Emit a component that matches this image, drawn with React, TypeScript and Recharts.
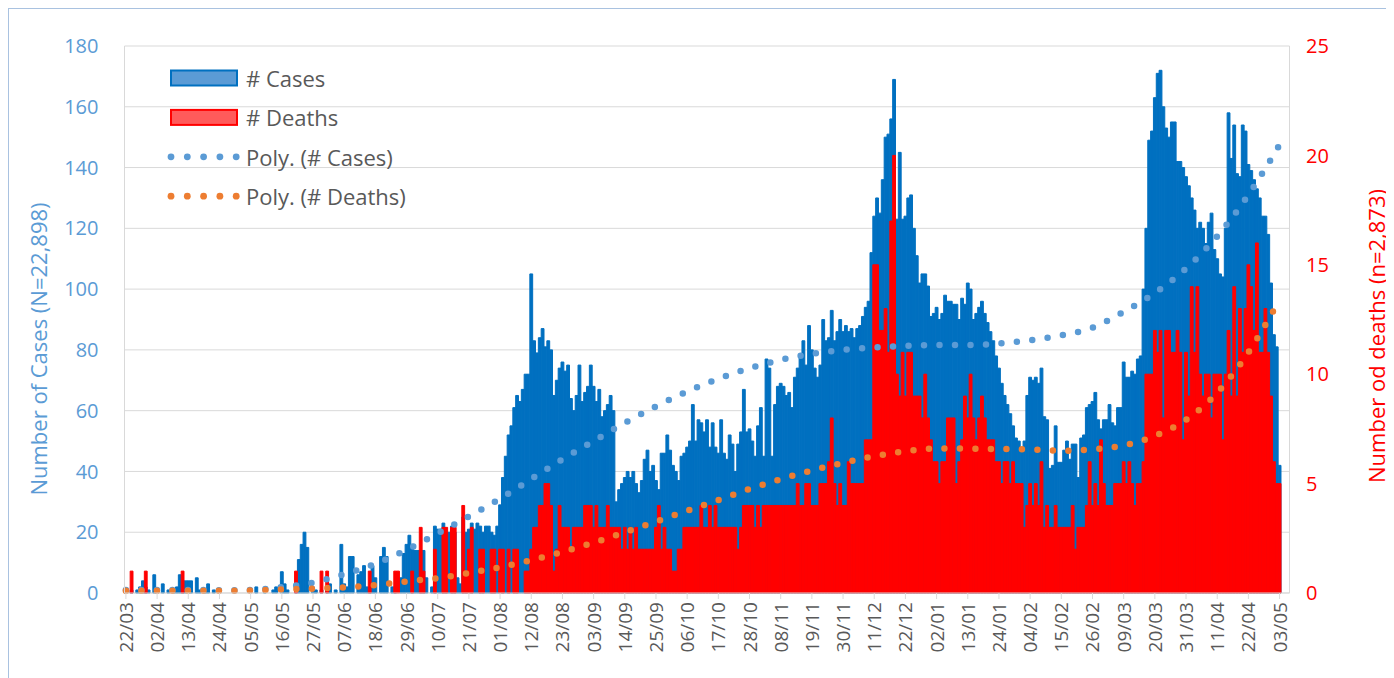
import {
  ComposedChart,
  Bar,
  Line,
  XAxis,
  YAxis,
  CartesianGrid,
  Legend,
  Label,
} from "recharts";

// first day shown on the axis, and number of day slots on the axis
// (the plot keeps a few empty days after 03/05)
const startDate = Date.UTC(2020, 2, 22);
const totalDays = 411;

// daily cases, one row per 11 days (row starts at the tick date in the comment)
const cases = [
  1, 0, 1, 0, 1, 2, 4, 2, 1, 0, 6, // 22/03
  1, 0, 3, 0, 1, 0, 1, 2, 6, 1, 4, // 02/04
  4, 4, 0, 5, 1, 0, 1, 3, 0, 1, 0, // 13/04
  0, 0, 0, 0, 0, 0, 0, 0, 0, 0, 0, // 24/04
  0, 0, 2, 0, 0, 1, 0, 0, 1, 2, 0, // 05/05
  7, 3, 1, 0, 0, 1, 11, 16, 20, 15, 0, // 16/05
  2, 1, 0, 1, 0, 1, 3, 0, 1, 0, 16, // 27/05
  3, 2, 12, 12, 0, 6, 7, 9, 2, 1, 9, // 07/06
  5, 0, 12, 15, 12, 0, 2, 1, 0, 5, 13, // 18/06
  16, 19, 16, 14, 14, 14, 14, 5, 0, 2, 22, // 29/06
  21, 21, 23, 20, 20, 22, 20, 5, 3, 25, 20, // 10/07
  21, 23, 21, 23, 22, 20, 22, 22, 20, 19, 22, // 21/07
  29, 38, 45, 52, 55, 61, 65, 63, 67, 72, 72, // 01/08
  105, 83, 79, 84, 87, 81, 83, 80, 65, 70, 74, // 12/08
  76, 73, 75, 64, 60, 65, 75, 63, 66, 68, 75, // 23/08
  68, 63, 67, 58, 60, 62, 65, 60, 30, 34, 36, // 03/09
  38, 40, 38, 40, 36, 33, 37, 44, 47, 40, 42, // 14/09
  37, 34, 46, 46, 52, 47, 42, 40, 37, 45, 46, // 25/09
  48, 50, 62, 50, 57, 56, 53, 57, 48, 56, 48, // 06/10
  46, 57, 46, 44, 52, 49, 40, 49, 53, 67, 53, // 17/10
  54, 50, 45, 55, 61, 45, 77, 74, 45, 62, 68, // 28/10
  69, 68, 65, 66, 61, 71, 74, 78, 83, 75, 88, // 08/11
  80, 74, 71, 75, 90, 83, 84, 93, 83, 86, 90, // 19/11
  86, 88, 86, 87, 84, 87, 88, 91, 94, 96, 112, // 30/11
  124, 130, 125, 136, 150, 151, 156, 169, 123, 145, 123, // 11/12
  124, 130, 131, 120, 111, 102, 105, 105, 101, 91, 92, // 22/12
  94, 90, 92, 98, 96, 96, 95, 95, 90, 97, 95, // 02/01
  102, 100, 90, 92, 94, 96, 92, 89, 86, 83, 78, // 13/01
  74, 69, 65, 62, 59, 55, 51, 50, 47, 50, 65, // 24/01
  71, 70, 71, 69, 74, 58, 57, 41, 42, 55, 43, // 04/02
  43, 47, 50, 44, 49, 49, 38, 51, 52, 61, 62, // 15/02
  63, 66, 57, 54, 57, 57, 62, 56, 55, 61, 61, // 26/02
  76, 71, 71, 73, 72, 77, 78, 100, 120, 149, 152, // 09/03
  163, 171, 172, 160, 153, 150, 155, 155, 142, 142, 140, // 20/03
  137, 134, 130, 126, 120, 122, 120, 115, 122, 125, 113, // 31/03
  110, 105, 104, 120, 158, 143, 154, 138, 137, 154, 152, // 11/04
  141, 139, 136, 133, 130, 124, 124, 118, 102, 85, 81, // 22/04
  42, // 03/05
];

// daily deaths, same layout
const deaths = [
  0, 0, 1, 0, 0, 0, 0, 1, 0, 0, 0, // 22/03
  0, 0, 0, 0, 0, 0, 0, 0, 0, 1, 0, // 02/04
  0, 0, 0, 0, 0, 0, 0, 0, 0, 0, 0, // 13/04
  0, 0, 0, 0, 0, 0, 0, 0, 0, 0, 0, // 24/04
  0, 0, 0, 0, 0, 0, 0, 0, 0, 0, 0, // 05/05
  0, 0, 0, 0, 0, 1, 0, 0, 0, 0, 0, // 16/05
  0, 0, 0, 1, 0, 1, 0, 0, 0, 0, 0, // 27/05
  0, 0, 0, 0, 0, 0, 0, 0, 0, 1, 0, // 07/06
  0, 0, 0, 0, 0, 0, 0, 1, 1, 0, 0, // 18/06
  0, 0, 1, 0, 0, 3, 1, 0, 0, 0, 2, // 29/06
  0, 0, 3, 3, 0, 3, 3, 0, 0, 4, 1, // 10/07
  2, 3, 0, 0, 2, 2, 0, 0, 2, 2, 0, // 21/07
  2, 2, 0, 2, 0, 2, 2, 0, 0, 1, 1, // 01/08
  2, 3, 3, 4, 4, 5, 5, 4, 1, 2, 4, // 12/08
  3, 3, 3, 2, 3, 3, 3, 3, 4, 4, 4, // 23/08
  3, 4, 3, 3, 3, 4, 3, 3, 3, 3, 2, // 03/09
  3, 2, 3, 2, 3, 2, 2, 2, 2, 2, 2, // 14/09
  3, 4, 2, 3, 2, 2, 1, 1, 2, 2, 3, // 25/09
  3, 3, 3, 3, 3, 4, 3, 3, 4, 3, 4, // 06/10
  3, 3, 3, 3, 3, 3, 3, 2, 3, 4, 4, // 17/10
  4, 4, 3, 4, 3, 4, 4, 4, 4, 4, 4, // 28/10
  4, 4, 4, 4, 4, 4, 5, 4, 4, 5, 5, // 08/11
  4, 4, 4, 5, 5, 5, 6, 8, 5, 4, 5, // 19/11
  4, 4, 6, 5, 5, 5, 5, 5, 7, 7, 7, // 30/11
  15, 15, 12, 12, 13, 11, 17, 20, 10, 9, 11, // 11/12
  9, 11, 11, 9, 9, 9, 8, 10, 8, 7, 6, // 22/12
  6, 5, 6, 6, 8, 8, 8, 5, 6, 7, 9, // 02/01
  8, 10, 8, 7, 8, 9, 8, 7, 7, 7, 6, // 13/01
  6, 5, 6, 6, 5, 6, 5, 5, 5, 3, 4, // 24/01
  5, 4, 5, 4, 6, 3, 4, 3, 3, 4, 3, // 04/02
  3, 3, 3, 3, 4, 2, 3, 3, 3, 4, 6, // 15/02
  4, 5, 4, 7, 5, 4, 4, 4, 5, 5, 5, // 26/02
  6, 5, 6, 5, 4, 5, 5, 6, 10, 10, 10, // 09/03
  12, 11, 12, 8, 12, 12, 11, 11, 12, 11, 7, // 20/03
  11, 9, 14, 11, 14, 10, 9, 10, 10, 8, 10, // 31/03
  10, 10, 7, 10, 12, 9, 14, 9, 13, 11, 13, // 11/04
  15, 14, 12, 16, 11, 11, 13, 11, 9, 6, 5, // 22/04
  5, // 03/05
];

// polynomial trendlines read at every tick date (22/03, 02/04, ... 03/05)
const casesTrend = [
  1, 1, 1, 0.9, 1, 1.9, 3.4, 6.2, 9.6, 14.2, 19.6, 25.2, 31, 37.5, 44, 50,
  56, 61.4, 66.3, 70.5, 74, 76.7, 78.7, 80, 80.8, 81.3, 81.6, 81.6, 82.1,
  83.2, 84.8, 87.3, 92.5, 98.7, 106.8, 117.4, 131, 147.5,
];
const deathsTrend = [
  0.1, 0.1, 0.1, 0.1, 0.12, 0.16, 0.2, 0.26, 0.36, 0.53, 0.68, 0.91, 1.18,
  1.5, 1.88, 2.3, 2.78, 3.26, 3.76, 4.25, 4.75, 5.2, 5.6, 5.95, 6.25, 6.48,
  6.6, 6.6, 6.58, 6.56, 6.5, 6.57, 6.74, 7.18, 7.92, 9.15, 11.0, 13.4,
];

const leftTicks = [0, 20, 40, 60, 80, 100, 120, 140, 160, 180];
const rightTicks = [0, 5, 10, 15, 20, 25];

const legendRows = [
  { label: "# Cases", kind: "box", fill: "#5B9BD5", stroke: "#0070C0" },
  { label: "# Deaths", kind: "box", fill: "#FF5B5B", stroke: "#FF0000" },
  { label: "Poly. (# Cases)", kind: "dots", fill: "#5B9BD5", stroke: "#5B9BD5" },
  { label: "Poly. (# Deaths)", kind: "dots", fill: "#ED7D31", stroke: "#ED7D31" },
];

const pad = (n: number) => String(n).padStart(2, "0");
const dates = Array.from({ length: totalDays }, (_, i) => {
  const d = new Date(startDate + i * 86400000);
  return `${pad(d.getUTCDate())}/${pad(d.getUTCMonth() + 1)}/${d.getUTCFullYear()}`;
});

const data = dates.map((date, i) => ({
  date,
  cases: i < cases.length ? cases[i] : null,
  deaths: i < deaths.length ? deaths[i] : null,
  casesTrend: i % 11 === 0 && i / 11 < casesTrend.length ? casesTrend[i / 11] : null,
  deathsTrend: i % 11 === 0 && i / 11 < deathsTrend.length ? deathsTrend[i / 11] : null,
}));

const W = 1381;
const H = 680;
const LEFT_W = 115.5;
const RIGHT_W = 100.5;
const plotW = W - LEFT_W - RIGHT_W;
const barSize = plotW / totalDays - 0.01;

const DateTick = (props: any) => {
  const { x, y, payload } = props;
  return (
    <text
      x={x}
      y={y}
      transform={`rotate(-90 ${x} ${y})`}
      textAnchor="end"
      dominantBaseline="central"
      fill="#595959"
      fontSize={19}
    >
      {String(payload.value).slice(0, 5)}
    </text>
  );
};

const renderLegend = () => (
  <svg width={300} height={150}>
    {legendRows.map((r, i) => {
      const cy = 14 + i * 39.4;
      return (
        <g key={r.label}>
          {r.kind === "box" ? (
            <rect x={7} y={cy - 7.5} width={66} height={15} fill={r.fill} stroke={r.stroke} strokeWidth={2} />
          ) : (
            [0, 1, 2, 3, 4].map((k) => (
              <circle key={k} cx={7 + k * 16.3} cy={cy} r={3.4} fill={r.fill} />
            ))
          )}
          <text x={82} y={cy} dominantBaseline="central" fontSize={22} fill="#595959">
            {r.label}
          </text>
        </g>
      );
    })}
  </svg>
);

export default function App() {
  return (
    <div
      style={{
        width: 1383,
        height: 690,
        border: "1px solid #A9C2E0",
        boxSizing: "border-box",
        background: "#fff",
        fontFamily: "'Open Sans', 'Noto Sans', sans-serif",
      }}
    >
      <ComposedChart
        width={W}
        height={H}
        data={data}
        margin={{ top: 37, right: 0, bottom: 0, left: 0 }}
        barCategoryGap={0}
        barGap={0}
        barSize={barSize}
      >
        <CartesianGrid xAxisId="x" yAxisId="left" vertical={false} stroke="#D9D9D9" />
        <XAxis
          xAxisId="x"
          dataKey="date"
          interval={10}
          height={H - 37 - 547}
          tickSize={6}
          tickMargin={3}
          tickLine={{ stroke: "#D9D9D9" }}
          axisLine={{ stroke: "#D9D9D9" }}
          tick={DateTick}
        />
        <XAxis xAxisId="x2" dataKey="date" hide />
        <YAxis
          yAxisId="left"
          width={LEFT_W}
          domain={[0, 180]}
          ticks={leftTicks}
          interval={0}
          tickSize={0}
          tickMargin={26}
          tickLine={false}
          axisLine={{ stroke: "#D9D9D9" }}
          tick={{ fill: "#5B9BD5", fontSize: 20 }}
        >
          <Label
            content={() => (
              <text
                x={29}
                y={340}
                transform="rotate(-90 29 340)"
                textAnchor="middle"
                dominantBaseline="central"
                fill="#5B9BD5"
                fontSize={22}
              >
                Number of Cases (N=22,898)
              </text>
            )}
          />
        </YAxis>
        <YAxis
          yAxisId="right"
          orientation="right"
          width={RIGHT_W}
          domain={[0, 25]}
          ticks={rightTicks}
          interval={0}
          tickSize={0}
          tickMargin={16.5}
          tickLine={false}
          axisLine={{ stroke: "#D9D9D9" }}
          tick={{ fill: "#FF0000", fontSize: 20 }}
        >
          <Label
            content={() => (
              <text
                x={1367}
                y={327}
                transform="rotate(-90 1367 327)"
                textAnchor="middle"
                dominantBaseline="central"
                fill="#FF0000"
                fontSize={22}
              >
                Number od deaths (n=2,873)
              </text>
            )}
          />
        </YAxis>
        <Legend
          content={renderLegend}
          layout="vertical"
          align="center"
          verticalAlign="middle"
          wrapperStyle={{ top: 55, left: 155, width: 300, height: 150 }}
        />
        <Bar
          xAxisId="x"
          yAxisId="left"
          dataKey="cases"
          fill="#0070C0"
          stroke="#0070C0"
          strokeWidth={1}
          isAnimationActive={false}
        />
        <Bar
          xAxisId="x2"
          yAxisId="right"
          dataKey="deaths"
          fill="#FF0000"
          stroke="#FF0000"
          strokeWidth={1}
          isAnimationActive={false}
        />
        <Line
          xAxisId="x"
          yAxisId="left"
          dataKey="casesTrend"
          type="monotone"
          connectNulls
          stroke="#5B9BD5"
          strokeWidth={6.5}
          strokeDasharray="0 15.5"
          strokeLinecap="round"
          dot={false}
          activeDot={false}
          isAnimationActive={false}
        />
        <Line
          xAxisId="x2"
          yAxisId="right"
          dataKey="deathsTrend"
          type="monotone"
          connectNulls
          stroke="#ED7D31"
          strokeWidth={6.5}
          strokeDasharray="0 15.5"
          strokeLinecap="round"
          dot={false}
          activeDot={false}
          isAnimationActive={false}
        />
      </ComposedChart>
    </div>
  );
}
